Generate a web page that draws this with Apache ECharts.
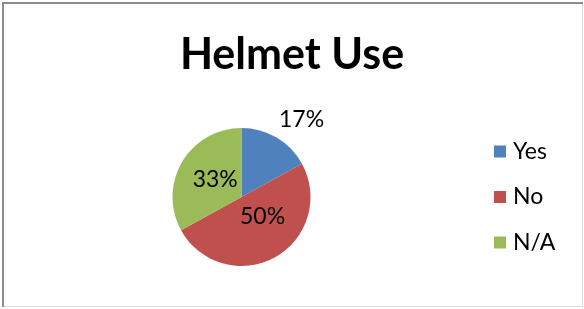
<!DOCTYPE html>
<html>
<head>
<meta charset="utf-8">
<script src="https://cdn.jsdelivr.net/npm/echarts@6/dist/echarts.min.js"></script>
<style>
html,body{margin:0;padding:0;background:#fff;}
#chart{width:584px;height:309px;}
</style>
</head>
<body>
<div id="chart"></div>
<script>
const titleText = "Helmet Use";
const categories = ["Yes", "No", "N/A"];
const values = [17, 50, 33];
const colors = ["#4F81BD", "#C0504D", "#9BBB59"];
// label offsets (style only) to mimic the reference label placement
const labelOffsets = [[41, -45], [3, -13], [6, 2]];

const chart = echarts.init(document.getElementById('chart'), null, {renderer: 'canvas'});
const option = {
  backgroundColor: '#ffffff',
  animation: false,
  title: {
    text: titleText,
    left: 'center',
    top: 29,
    textStyle: {fontFamily: 'Lato', fontWeight: 'bold', fontSize: 43, color: '#000', lineHeight: 43}
  },
  legend: {
    orient: 'vertical',
    left: 489,
    top: 135,
    icon: 'rect',
    itemWidth: 12,
    itemHeight: 12,
    itemGap: 22.5,
    data: categories,
    textStyle: {fontFamily: 'Lato', fontSize: 23, color: '#000', lineHeight: 23, padding: [0, 0, 0, 2]}
  },
  graphic: [
    {type: 'rect', shape: {x: 2.5, y: 2.5, width: 580, height: 304}, style: {fill: 'none', stroke: '#d9d9d9', lineWidth: 1}, silent: true},
    {type: 'polyline', shape: {points: [[3, 307], [3, 3], [583, 3]]}, style: {fill: 'none', stroke: '#8c8c8c', lineWidth: 2}, silent: true}
  ],
  series: [{
    type: 'pie',
    center: [241.5, 197],
    radius: 69,
    startAngle: 90,
    clockwise: true,
    data: categories.map((c, i) => ({name: c, value: values[i], itemStyle: {color: colors[i]}})),
    label: {
      show: true,
      position: 'inside',
      formatter: p => Math.round(p.percent) + '%',
      fontFamily: 'Lato',
      fontSize: 23,
      color: '#000'
    },
    labelLine: {show: false},
    labelLayout: function (params) {
      const o = labelOffsets[params.dataIndex];
      return {dx: o[0], dy: o[1]};
    },
    itemStyle: {borderWidth: 0},
    emphasis: {disabled: true}
  }]
};
chart.setOption(option);
</script>
</body>
</html>
